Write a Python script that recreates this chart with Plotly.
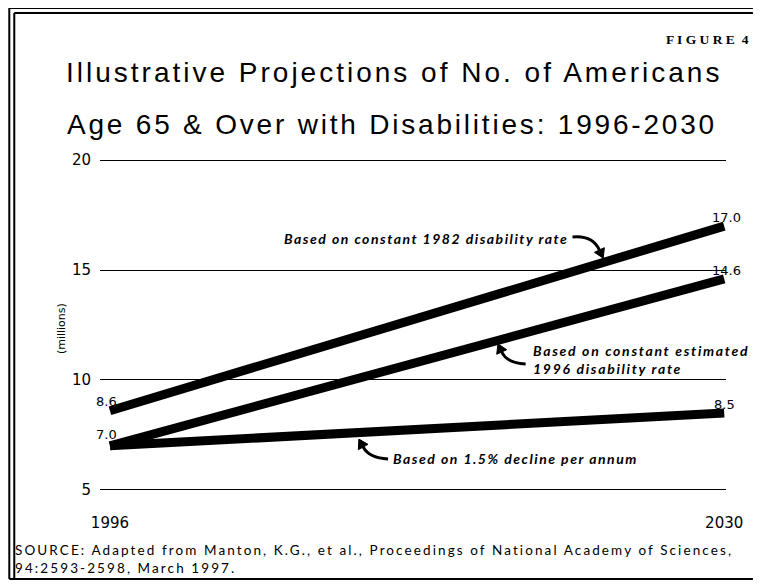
import math
import plotly.graph_objects as go

# data
years = [1996, 2030]
rate_1982 = [8.6, 17.0]
rate_1996 = [7.0, 14.6]
decline_15 = [7.0, 8.5]
y_ticks = [5, 10, 15, 20]
x_ticks = [1996, 2030]

# page body has an 8px margin, so the figure is drawn 8px in from the edges
OFF = 8
W, H = 747, 572
L, R, T, B = 92, 27, 150, 88


def px(x):
    return (x - OFF - L) / (W - L - R)


def py(y):
    return (H - B - (y - OFF)) / (H - T - B)


def spaced(txt, sp):
    return f"<span style='letter-spacing:{sp}px'>{txt}</span>"


fig = go.Figure()
for vals in [rate_1982, rate_1996, decline_15]:
    fig.add_trace(go.Scatter(
        x=years, y=vals, mode='lines',
        line=dict(color='black', width=9),
        hoverinfo='skip', showlegend=False
    ))

lab_font = dict(family='DejaVu Sans', size=13, color='black')
# end value labels
labels = [(rate_1982, 0, -3, 9), (rate_1982, 1, 2, 9),
          (rate_1996, 0, -3, 11), (rate_1996, 1, 2, 8),
          (decline_15, 1, 0, 8)]
for vals, i, xs, ys in labels:
    fig.add_annotation(x=years[i], y=vals[i], text=f'{vals[i]:.1f}',
                       showarrow=False, font=lab_font, xshift=xs, yshift=ys)

note_font = dict(family='Lato', size=14, color='black')
notes = [
    ('Based on constant 1982 disability rate', 283, 238, 1.5),
    ('Based on constant estimated<br>1996 disability rate', 532, 359, 1.7),
    ('Based on 1.5% decline per annum', 392, 458, 1.5),
]
for txt, x, y, sp in notes:
    fig.add_annotation(x=px(x), y=py(y), xref='paper', yref='paper',
                       text='<i><b>' + spaced(txt, sp) + '</b></i>',
                       showarrow=False, xanchor='left', yanchor='middle', align='left',
                       font=note_font)


# curved pointer arrows: tail, control point, end of curve
def add_curved_arrow(tail, ctrl, end, hl=9, hw=5.5):
    dx, dy = end[0] - ctrl[0], end[1] - ctrl[1]
    n = math.hypot(dx, dy)
    ux, uy = dx / n, dy / n
    tip = (end[0] + hl * ux, end[1] + hl * uy)
    b1 = (end[0] - hw * uy, end[1] + hw * ux)
    b2 = (end[0] + hw * uy, end[1] - hw * ux)
    curve = (f'M {px(tail[0])},{py(tail[1])} Q {px(ctrl[0])},{py(ctrl[1])} '
             f'{px(end[0])},{py(end[1])}')
    fig.add_shape(type='path', xref='paper', yref='paper', path=curve,
                  line=dict(color='black', width=3))
    head = (f'M {px(tip[0])},{py(tip[1])} L {px(b1[0])},{py(b1[1])} '
            f'L {px(b2[0])},{py(b2[1])} Z')
    fig.add_shape(type='path', xref='paper', yref='paper', path=head,
                  fillcolor='black', line=dict(color='black', width=1))


add_curved_arrow((574, 237), (594, 235), (601, 250))
add_curved_arrow((527, 364), (508, 363), (503, 352))
add_curved_arrow((389, 459), (370, 458), (364, 447))

# title & captions
fig.add_annotation(x=px(753), y=py(39), xref='paper', yref='paper',
                   text='<b>F I G U R E  4</b>', showarrow=False,
                   xanchor='right', yanchor='middle',
                   font=dict(family='Liberation Serif', size=13.5, color='black'))
fig.add_annotation(x=px(395), y=py(72), xref='paper', yref='paper',
                   text=spaced('Illustrative Projections of No. of Americans', 3),
                   showarrow=False, xanchor='center', yanchor='middle',
                   font=dict(family='Liberation Sans', size=28, color='black'))
fig.add_annotation(x=px(393), y=py(124), xref='paper', yref='paper',
                   text=spaced('Age 65 &amp; Over with Disabilities: 1996-2030', 2.8),
                   showarrow=False, xanchor='center', yanchor='middle',
                   font=dict(family='Liberation Sans', size=28, color='black'))
fig.add_annotation(x=px(61), y=py(329), xref='paper', yref='paper',
                   text='(millions)', showarrow=False, textangle=-90,
                   xanchor='center', yanchor='middle',
                   font=dict(family='DejaVu Sans', size=11, color='black'))
fig.add_annotation(x=px(13), y=py(559), xref='paper', yref='paper',
                   xanchor='left', yanchor='middle', align='left', showarrow=False,
                   text=spaced('SOURCE: Adapted from Manton, K.G., et al., Proceedings of National Academy of Sciences,', 2.1)
                   + '<br>' + spaced('94:2593-2598, March 1997.', 2.1),
                   font=dict(family='Lato', size=13.5, color='black'))

# double border
border = [
    (9, 8, 9, 579), (14, 13, 14, 579),
    (9, 8, 755, 8), (14, 13, 755, 13),
    (9, 579, 755, 579),
]
for x0, y0, x1, y1 in border:
    fig.add_shape(type='line', xref='paper', yref='paper',
                  x0=px(x0), y0=py(y0), x1=px(x1), y1=py(y1),
                  line=dict(color='black', width=2))

fig.update_layout(
    width=W, height=H,
    margin=dict(l=L, r=R, t=T, b=B),
    paper_bgcolor='white', plot_bgcolor='white',
    font=dict(family='DejaVu Sans', color='black'),
    showlegend=False,
    xaxis=dict(range=[1995.45, 2030.1], tickvals=x_ticks, showgrid=False,
               zeroline=False, showline=False, ticklabelstandoff=20,
               tickfont=dict(size=15, family='DejaVu Sans')),
    yaxis=dict(range=[4.9, 20.1], tickvals=y_ticks, showgrid=True,
               gridcolor='black', gridwidth=1, zeroline=False, showline=False,
               ticklabelstandoff=8, tickfont=dict(size=15, family='DejaVu Sans')),
)

fig.write_html('out.html')
